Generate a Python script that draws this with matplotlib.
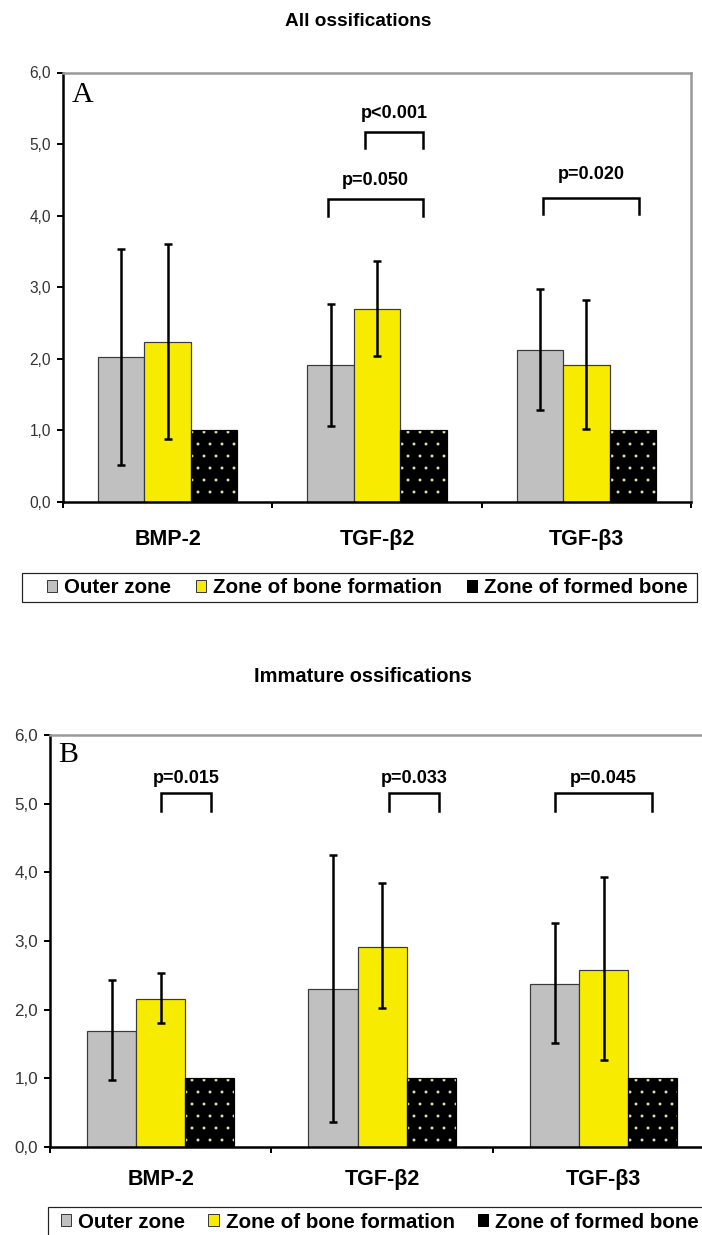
import matplotlib
matplotlib.use("Agg")
import matplotlib.pyplot as plt
import numpy as np
from matplotlib.patches import Patch, Rectangle

plt.rcParams["font.family"] = ["Liberation Sans", "DejaVu Sans"]
plt.rcParams["hatch.linewidth"] = 0.4

W, H = 702, 1235

categories = ["BMP-2", "TGF-β2", "TGF-β3"]
series_names = ["Outer zone", "Zone of bone formation", "Zone of formed bone"]

# A: all ossifications (bar value, lower and upper end of the error bar)
all_outer = [2.03, 1.91, 2.13]
all_outer_low = [0.52, 1.06, 1.28]
all_outer_high = [3.53, 2.76, 2.98]
all_forming = [2.23, 2.69, 1.91]
all_forming_low = [0.88, 2.04, 1.02]
all_forming_high = [3.60, 3.36, 2.82]
all_formed = [1.0, 1.0, 1.0]

# B: immature ossifications
imm_outer = [1.69, 2.30, 2.37]
imm_outer_low = [0.98, 0.36, 1.51]
imm_outer_high = [2.43, 4.25, 3.26]
imm_forming = [2.15, 2.91, 2.58]
imm_forming_low = [1.80, 2.02, 1.27]
imm_forming_high = [2.53, 3.84, 3.93]
imm_formed = [1.0, 1.0, 1.0]

# p-value brackets: category, left / right offset, level, label, text lift (pt)
all_brackets = [
    (1, -0.055, 0.22, 5.17, "p<0.001", 18),
    (1, -0.235, 0.22, 4.23, "p=0.050", 19),
    (2, -0.205, 0.25, 4.25, "p=0.020", 23),
]
imm_brackets = [
    (0, 0.0, 0.228, 5.15, "p=0.015", 15),
    (1, 0.03, 0.257, 5.15, "p=0.033", 15),
    (2, -0.219, 0.219, 5.15, "p=0.045", 15),
]

GRAY = "#c0c0c0"
YELLOW = "#f7ec00"
EDGE = "#3a3a3a"


def px_axes(fig, left, top, right, bottom):
    return fig.add_axes([left / W, 1 - bottom / H, (right - left) / W, (bottom - top) / H])


def draw_panel(ax, outer, outer_lo, outer_hi, forming, forming_lo, forming_hi,
               formed, xmax, brackets, leg, letter, letter_off, label_pad, tick_size):
    x = np.arange(len(categories))
    w = 0.222
    outer = np.array(outer)
    forming = np.array(forming)

    ax.bar(x - w, outer, w, color=GRAY, edgecolor=EDGE, linewidth=1.2, zorder=2)
    ax.bar(x, forming, w, color=YELLOW, edgecolor=EDGE, linewidth=1.2, zorder=2)
    ax.bar(x + w, formed, w, color="black", edgecolor="#e8e8b8", hatch=".",
           linewidth=0, zorder=2)
    ax.bar(x + w, formed, w, fill=False, edgecolor="black", linewidth=1.2, zorder=2)

    ax.errorbar(x - w, outer, yerr=[outer - np.array(outer_lo), np.array(outer_hi) - outer],
                fmt="none", ecolor="black", elinewidth=2.5, capsize=4, capthick=2.5, zorder=3)
    ax.errorbar(x, forming, yerr=[forming - np.array(forming_lo), np.array(forming_hi) - forming],
                fmt="none", ecolor="black", elinewidth=2.5, capsize=4, capthick=2.5, zorder=3)

    for cat, left, right, level, label, lift in brackets:
        ax.plot([cat + left, cat + left, cat + right, cat + right],
                [level - leg, level, level, level - leg],
                color="black", linewidth=2.5, solid_joinstyle="miter", zorder=3)
        ax.annotate(label, xy=(cat + (left + right) / 2, level), xytext=(0, lift),
                    textcoords="offset points", ha="center", va="center",
                    fontsize=18, fontweight="bold")

    ax.set_xlim(-0.5, xmax)
    ax.set_ylim(0, 6)
    ax.set_yticks(np.arange(0, 7))
    ax.set_yticklabels([f"{v:.1f}".replace(".", ",") for v in np.arange(0, 7)])
    bounds = [b for b in np.arange(-0.5, len(categories) + 0.5) if b <= xmax]
    ax.set_xticks(bounds)
    ax.set_xticklabels([])
    ax.set_xticks(x, minor=True)
    ax.set_xticklabels(categories, minor=True, fontsize=21.5, fontweight="bold")
    ax.tick_params(axis="y", length=6, width=2, pad=6, labelsize=tick_size, labelcolor="#333333")
    ax.tick_params(axis="x", which="major", length=6, width=2)
    ax.tick_params(axis="x", which="minor", length=0, pad=label_pad)

    for side in ("left", "bottom"):
        ax.spines[side].set_linewidth(2.5)
        ax.spines[side].set_color("black")
    for side in ("top", "right"):
        ax.spines[side].set_linewidth(2.5)
        ax.spines[side].set_color("#999999")

    ax.annotate(letter, xy=(0, 1), xycoords="axes fraction", xytext=letter_off,
                textcoords="offset points", ha="left", va="top",
                fontsize=30, family="Liberation Serif")


def add_legend(fig, frame_box, left, right, center_y):
    fx0, fy0, fx1, fy1 = frame_box
    fig.add_artist(Rectangle((fx0 / W, 1 - fy1 / H), (fx1 - fx0) / W, (fy1 - fy0) / H,
                             transform=fig.transFigure, fill=False,
                             edgecolor="#222222", linewidth=1.2))
    handles = [
        Patch(facecolor=GRAY, edgecolor=EDGE),
        Patch(facecolor=YELLOW, edgecolor=EDGE),
        Patch(facecolor="black", edgecolor="black"),
    ]
    fig.legend(handles, series_names, loc="center",
               bbox_to_anchor=(left / W, 1 - (center_y + 10) / H, (right - left) / W, 20 / H),
               mode="expand", ncol=3, frameon=False, handlelength=0.5, handleheight=0.5,
               handletextpad=0.35, borderaxespad=0, borderpad=0,
               prop={"weight": "bold", "size": 20.5})


fig = plt.figure(figsize=(W / 72, H / 72), dpi=72)

ax_a = px_axes(fig, 63, 72.5, 691, 502)
draw_panel(ax_a, all_outer, all_outer_low, all_outer_high, all_forming, all_forming_low,
           all_forming_high, all_formed, 2.5, all_brackets, 0.23, "A", (9, -9), 27, 15.5)
fig.text(358 / W, 1 - 21 / H, "All ossifications", ha="center", va="center",
         fontsize=19, fontweight="bold")
add_legend(fig, (22, 573, 697, 602), 47, 688, 587.5)

ax_b = px_axes(fig, 50, 735, 702, 1147)
draw_panel(ax_b, imm_outer, imm_outer_low, imm_outer_high, imm_forming, imm_forming_low,
           imm_forming_high, imm_formed, 2.444, imm_brackets, 0.25, "B", (8, -7), 22, 17)
ax_b.spines["right"].set_visible(False)
fig.text(363 / W, 1 - 677 / H, "Immature ossifications", ha="center", va="center",
         fontsize=20, fontweight="bold")
add_legend(fig, (48, 1207, 730, 1240), 61, 699, 1222)

fig.savefig("out.png", dpi=72)
